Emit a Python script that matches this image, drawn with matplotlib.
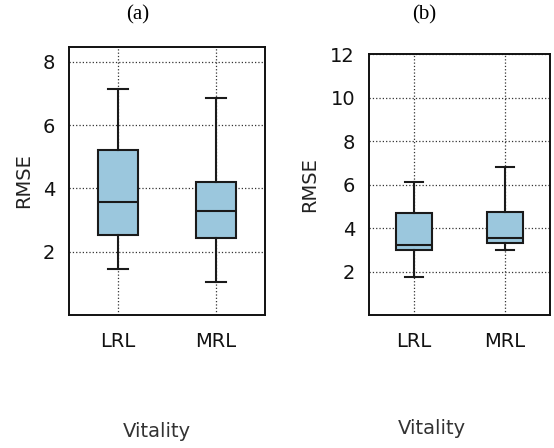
import matplotlib
matplotlib.use("Agg")
import matplotlib.pyplot as plt

categories = ["LRL", "MRL"]

# panel (a) statistics: whislo, q1, med, q3, whishi
a_whislo = [1.46, 1.04]
a_q1 = [2.54, 2.42]
a_med = [3.56, 3.29]
a_q3 = [5.20, 4.19]
a_whishi = [7.14, 6.85]

# panel (b)
b_whislo = [1.77, 2.97]
b_q1 = [3.00, 3.29]
b_med = [3.22, 3.53]
b_q3 = [4.68, 4.74]
b_whishi = [6.13, 6.82]

a_yticks = [2, 4, 6, 8]
b_yticks = [2, 4, 6, 8, 10, 12]

box_color = "#9bc7dd"

fig = plt.figure(figsize=(5.54, 4.48), dpi=100)
ax_a = fig.add_axes([69/554, 1-315/448, 196/554, 268/448])
ax_b = fig.add_axes([369/554, 1-315/448, 181/554, 261/448])


def draw(ax, wl, q1, med, q3, wh, yticks, ylim, label_x):
    stats = []
    for i, c in enumerate(categories):
        stats.append(dict(label=c, whislo=wl[i], q1=q1[i], med=med[i], q3=q3[i],
                          whishi=wh[i], fliers=[]))
    ax.bxp(stats, positions=[1, 2], widths=0.4, patch_artist=True, showfliers=False,
           boxprops=dict(facecolor=box_color, edgecolor="#1a1a1a", linewidth=1.5),
           medianprops=dict(color="#1a1a1a", linewidth=1.5),
           whiskerprops=dict(color="#1a1a1a", linewidth=1.5),
           capprops=dict(color="#1a1a1a", linewidth=1.5))
    ax.set_xlim(0.5, 2.5)
    ax.set_ylim(*ylim)
    ax.set_yticks(yticks)
    ax.set_xticks([1, 2])
    ax.set_xticklabels(categories)
    ax.grid(True, linestyle=":", color="#333333", linewidth=0.9)
    ax.set_axisbelow(True)
    ax.tick_params(axis="both", length=0, labelsize=14, colors="#111111")
    ax.tick_params(axis="y", pad=10)
    ax.tick_params(axis="x", pad=12)
    for s in ax.spines.values():
        s.set_linewidth(1.4)
        s.set_color("#111111")
    ax.set_ylabel("RMSE", fontsize=14, color="#222222")
    ax.set_xlabel("Vitality", fontsize=14, color="#333333")
    ax.xaxis.set_label_coords(label_x, -0.40)


draw(ax_a, a_whislo, a_q1, a_med, a_q3, a_whishi, a_yticks, (0, 8.47), 0.45)
draw(ax_b, b_whislo, b_q1, b_med, b_q3, b_whishi, b_yticks, (0, 12), 0.35)
ax_a.yaxis.set_label_coords(-0.184, 0.5)
ax_b.yaxis.set_label_coords(-0.276, 0.5)

fig.text(138/554, 1-15/448, "(a)", ha="center", va="center", fontsize=15,
         family="Liberation Serif")
fig.text(424/554, 1-15/448, "(b)", ha="center", va="center", fontsize=15,
         family="Liberation Serif")

fig.savefig("out.png", dpi=100)
